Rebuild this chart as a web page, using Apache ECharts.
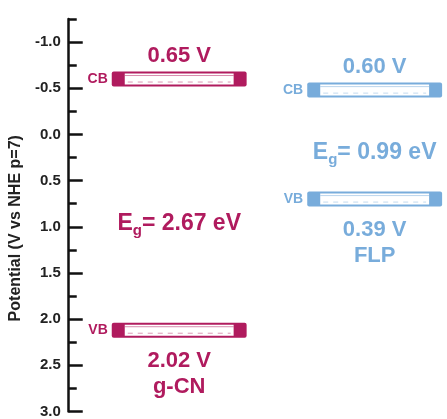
<!DOCTYPE html>
<html>
<head>
<meta charset="utf-8">
<script src="https://cdn.jsdelivr.net/npm/echarts@6/dist/echarts.min.js"></script>
<style>
  html, body { margin: 0; padding: 0; background: #fff; }
  #chart { width: 447px; height: 419px; }
</style>
</head>
<body>
<div id="chart"></div>
<script>
// band edges as drawn on the potential axis (V vs NHE)
const materials = ['g-CN', 'FLP']
const cbValues = [-0.60, -0.48]
const vbValues = [2.12, 0.70]
const cbLabels = ['0.65 V', '0.60 V']
const vbLabels = ['2.02 V', '0.39 V']
const gapLabels = ['2.67 eV', '0.99 eV']
const majorTicks = [-1.0, -0.5, 0.0, 0.5, 1.0, 1.5, 2.0, 2.5, 3.0]
const minorTicks = [-1.25, -0.75, -0.25, 0.25, 0.75, 1.25, 1.75, 2.25, 2.75]

const colors = ['#b01b5e', '#78acdb']
const font = '"Liberation Sans", Arial, sans-serif'
const bandWidth = 0.69

function band(x0, y, w, col) {
  return [
    { type: 'rect', shape: { x: x0, y: y - 7.5, width: w, height: 15, r: 2 }, style: { fill: col } },
    { type: 'rect', shape: { x: x0 + 13, y: y - 5.5, width: w - 26, height: 11 }, style: { fill: '#fff' } },
    { type: 'line', shape: { x1: x0 + 13, y1: y - 3.5, x2: x0 + w - 13, y2: y - 3.5 },
      style: { stroke: col, lineWidth: 1, opacity: 0.5 } },
    { type: 'line', shape: { x1: x0 + 16, y1: y + 3, x2: x0 + w - 16, y2: y + 3 },
      style: { stroke: col, lineWidth: 1, lineDash: [5, 5], opacity: 0.45 } },
  ]
}

function txt(text, x, y, col, size, align) {
  return {
    type: 'text',
    style: {
      text, x, y, fill: col, fontSize: size, fontWeight: 'bold', fontFamily: font,
      align: align || 'center', verticalAlign: 'middle',
    },
  }
}

function renderItem(params, api) {
  const i = api.value(0)
  const c = api.coord([i, api.value(1)])
  const v = api.coord([i, api.value(2)])
  const w = api.size([bandWidth, 0])[0]
  const x0 = c[0] - w / 2
  const col = colors[i]
  const gapY = c[1] + 0.575 * (v[1] - c[1])
  return {
    type: 'group',
    children: [
      ...band(x0, c[1], w, col),
      ...band(x0, v[1], w, col),
      txt('CB', x0 - 4, c[1], col, 14, 'right'),
      txt('VB', x0 - 4, v[1], col, 14, 'right'),
      txt(cbLabels[i], c[0], c[1] - 23, col, 22),
      txt(vbLabels[i], c[0], v[1] + 31, col, 22),
      txt(materials[i], c[0], v[1] + 57, col, 22),
      {
        type: 'text',
        style: {
          text: '{e|E}{s|g}{e|= ' + gapLabels[i] + '}',
          x: c[0], y: gapY, align: 'center', verticalAlign: 'middle',
          rich: {
            e: { fontSize: 23, fontWeight: 'bold', fontFamily: font, fill: col, lineHeight: 28 },
            s: { fontSize: 15, fontWeight: 'bold', fontFamily: font, fill: col, padding: [14, 0, 0, 0] },
          },
        },
      },
    ],
  }
}

const chart = echarts.init(document.getElementById('chart'))
chart.setOption({
  animation: false,
  grid: { left: 61, right: 0, top: 19, bottom: 7 },
  xAxis: { type: 'value', min: -0.565, max: 1.37, show: false },
  yAxis: [
    {
      type: 'value', inverse: true, min: -1.25, max: 3.0, interval: 0.25, position: 'left',
      name: 'Potential (V vs NHE p=7)', nameLocation: 'middle', nameGap: 34,
      nameTextStyle: { fontSize: 16, fontWeight: 'bold', fontFamily: font, color: '#222', padding: [0, 26, 0, 0] },
      axisLine: { show: true, onZero: false, lineStyle: { color: '#111', width: 2.5 } },
      axisTick: { show: true, inside: true, length: 14, lineStyle: { color: '#111', width: 2.5 }, customValues: majorTicks },
      axisLabel: {
        customValues: majorTicks, margin: 8, color: '#222', fontSize: 15, fontWeight: 'bold', fontFamily: font,
        formatter: (v) => v.toFixed(1),
      },
      splitLine: { show: false },
    },
    {
      type: 'value', inverse: true, min: -1.25, max: 3.0, interval: 0.25, position: 'left',
      axisLine: { show: false, onZero: false },
      axisTick: { show: true, inside: true, length: 8, lineStyle: { color: '#111', width: 2.5 }, customValues: minorTicks },
      axisLabel: { show: false },
      splitLine: { show: false },
    },
  ],
  series: [
    {
      type: 'custom',
      renderItem,
      encode: { x: 0, y: [1, 2] },
      data: materials.map((m, i) => [i, cbValues[i], vbValues[i]]),
    },
  ],
})
</script>
</body>
</html>
